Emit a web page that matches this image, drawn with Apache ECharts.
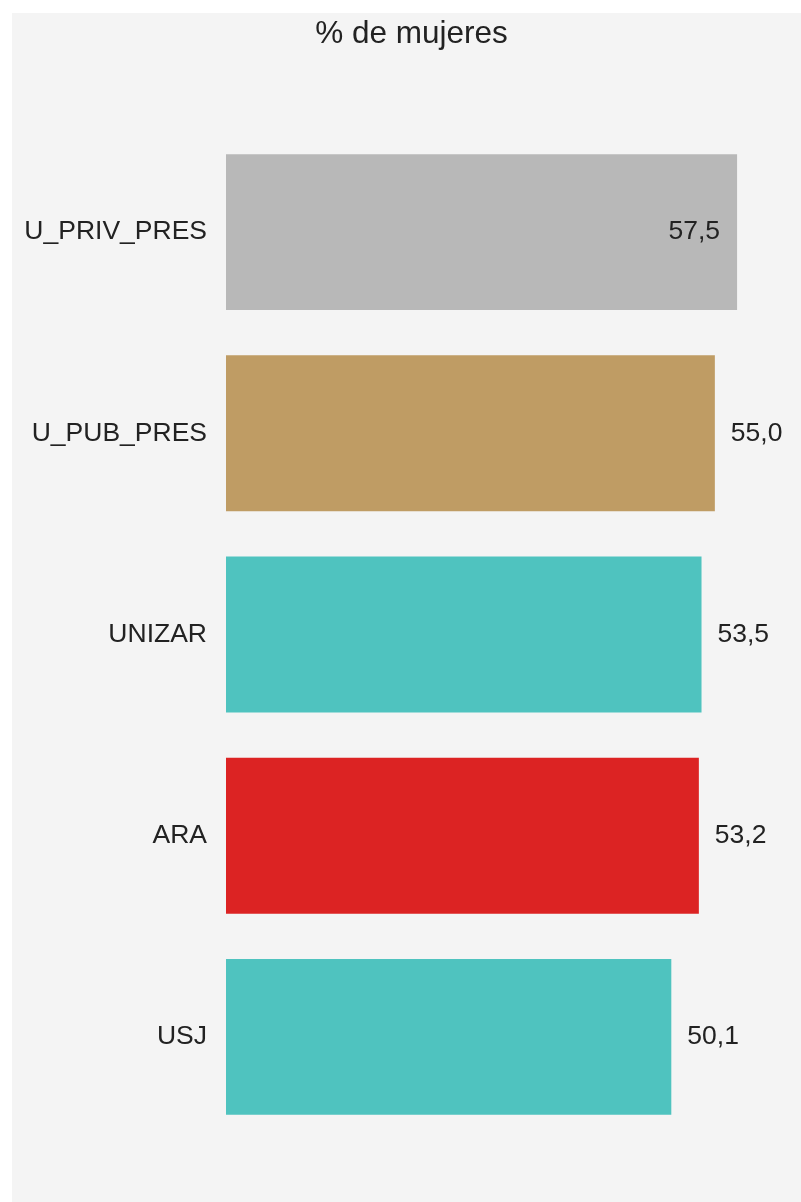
<!DOCTYPE html>
<html>
<head>
<meta charset="utf-8">
<script src="https://cdn.jsdelivr.net/npm/echarts@6/dist/echarts.min.js"></script>
<style>
  html, body { margin: 0; padding: 0; background: #ffffff; }
  #panel { position: absolute; left: 12px; top: 13px; width: 789px; height: 1189px; background: #f4f4f4; }
  #chart { width: 789px; height: 1189px; }
</style>
</head>
<body>
<div id="panel"><div id="chart"></div></div>
<script>
const categories = ["U_PRIV_PRES", "U_PUB_PRES", "UNIZAR", "ARA", "USJ"];
const values = [57.5, 55.0, 53.5, 53.2, 50.1];
const barColors = ["#b8b8b8", "#bf9c64", "#4fc3bf", "#dc2323", "#4fc3bf"];
const insideLabel = [true, false, false, false, false];
const titleText = "% de mujeres";

const fmt = (v) => v.toFixed(1).replace(".", ",");
const font = "Liberation Sans, Arial, sans-serif";

const chart = echarts.init(document.getElementById("chart"));
chart.setOption({
  animation: false,
  textStyle: { fontFamily: font },
  graphic: [{
    type: "text",
    x: 399.5,
    y: 5,
    style: {
      text: titleText,
      fontSize: 31.5,
      fontFamily: font,
      fill: "#222",
      align: "center",
      verticalAlign: "top"
    }
  }],
  grid: { left: 214, right: 41.7, top: 118.5, height: 1006, containLabel: false },
  xAxis: {
    type: "value",
    min: 0,
    max: 60,
    show: false
  },
  yAxis: {
    type: "category",
    inverse: true,
    data: categories,
    axisLine: { show: false },
    axisTick: { show: false },
    axisLabel: { fontSize: 26.5, color: "#222", margin: 19, padding: [8, 0, 0, 0] }
  },
  series: [{
    type: "bar",
    barCategoryGap: "22.5%",
    data: values.map((v, i) => ({
      value: v,
      itemStyle: { color: barColors[i] },
      label: {
        show: true,
        position: insideLabel[i] ? "insideRight" : "right",
        distance: insideLabel[i] ? 17 : 16,
        formatter: fmt(v),
        fontSize: 26.5,
        color: "#222",
        padding: [8, 0, 0, 0]
      }
    }))
  }]
});
</script>
</body>
</html>
